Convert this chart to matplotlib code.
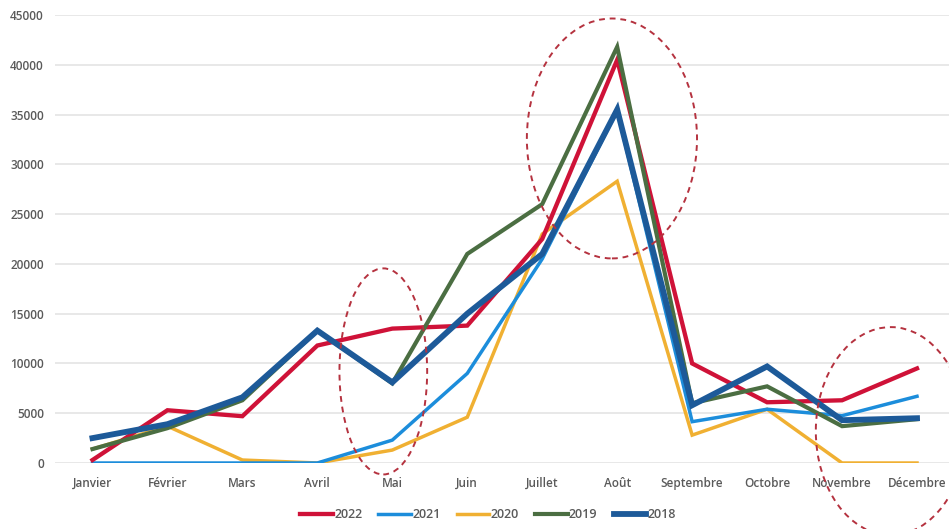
import matplotlib.pyplot as plt
from matplotlib.patches import Ellipse

mois = ['Janvier', 'Février', 'Mars', 'Avril', 'Mai', 'Juin', 'Juillet', 'Août',
        'Septembre', 'Octobre', 'Novembre', 'Décembre']
y2022 = [300, 5300, 4700, 11800, 13500, 13800, 22500, 40500, 10000, 6100, 6300, 9500]
y2021 = [0, 0, 0, 0, 2300, 9000, 20500, 35400, 4150, 5400, 4750, 6700]
y2020 = [1400, 3700, 300, 0, 1300, 4600, 23000, 28300, 2800, 5400, 0, 0]
y2019 = [1400, 3500, 6300, 13300, 8000, 21000, 26000, 41800, 6000, 7700, 3700, 4400]
y2018 = [2500, 3900, 6600, 13300, 8100, 15000, 21000, 35500, 5800, 9700, 4300, 4500]

series = [('2020', y2020, '#f0b032', 2.5),
          ('2021', y2021, '#1c8ddb', 2.5),
          ('2022', y2022, '#cf1238', 3.1),
          ('2019', y2019, '#4b6e42', 3.0),
          ('2018', y2018, '#1d5a99', 4.2)]
legendOrder = ['2022', '2021', '2020', '2019', '2018']

plt.rcParams['font.family'] = ['Open Sans', 'DejaVu Sans']

fig = plt.figure(figsize=(9.49, 5.29), dpi=100)
ax = fig.add_axes([55 / 949, 66 / 529, 899.5 / 949, 448 / 529])
x = list(range(len(mois)))
lines = {}
for name, vals, col, lw in series:
    l, = ax.plot(x, vals, color=col, lw=lw, label=name, solid_joinstyle='miter')
    lines[name] = l

ax.set_xlim(-0.5, 11.5)
ax.set_ylim(0, 45000)
ax.set_yticks(range(0, 45001, 5000))
ax.set_xticks(x)
ax.set_xticklabels(mois)
ax.grid(True, axis='y', color='#e6e6e6', lw=1.3)
ax.set_axisbelow(True)
for s in ax.spines.values():
    s.set_visible(False)
ax.tick_params(length=0, labelsize=8.5, labelcolor='#5a5a5a', pad=10)
for t in ax.get_xticklabels() + ax.get_yticklabels():
    t.set_fontweight('semibold')
ax.tick_params(axis='y', pad=8)

# cercles rouges en pointillés
for cx, cy, w, h in [(3.88, 9200, 1.17, 20700), (6.93, 32600, 2.27, 24100), (10.65, 3200, 2.0, 20900)]:
    e = Ellipse((cx, cy), w, h, fill=False, ec='#b5323f', ls=(0, (3, 2.5)), lw=1.4, clip_on=False, zorder=5)
    ax.add_patch(e)

leg = fig.legend([lines[n] for n in legendOrder], legendOrder, loc='center', bbox_to_anchor=(488 / 949, 14 / 529),
                 ncol=5, frameon=False, handlelength=2.6, handletextpad=0.1, columnspacing=1.3,
                 prop={'size': 9, 'weight': 'semibold'})
for t in leg.get_texts():
    t.set_color('#5a5a5a')

plt.savefig('out.png', dpi=100)
plt.close()
